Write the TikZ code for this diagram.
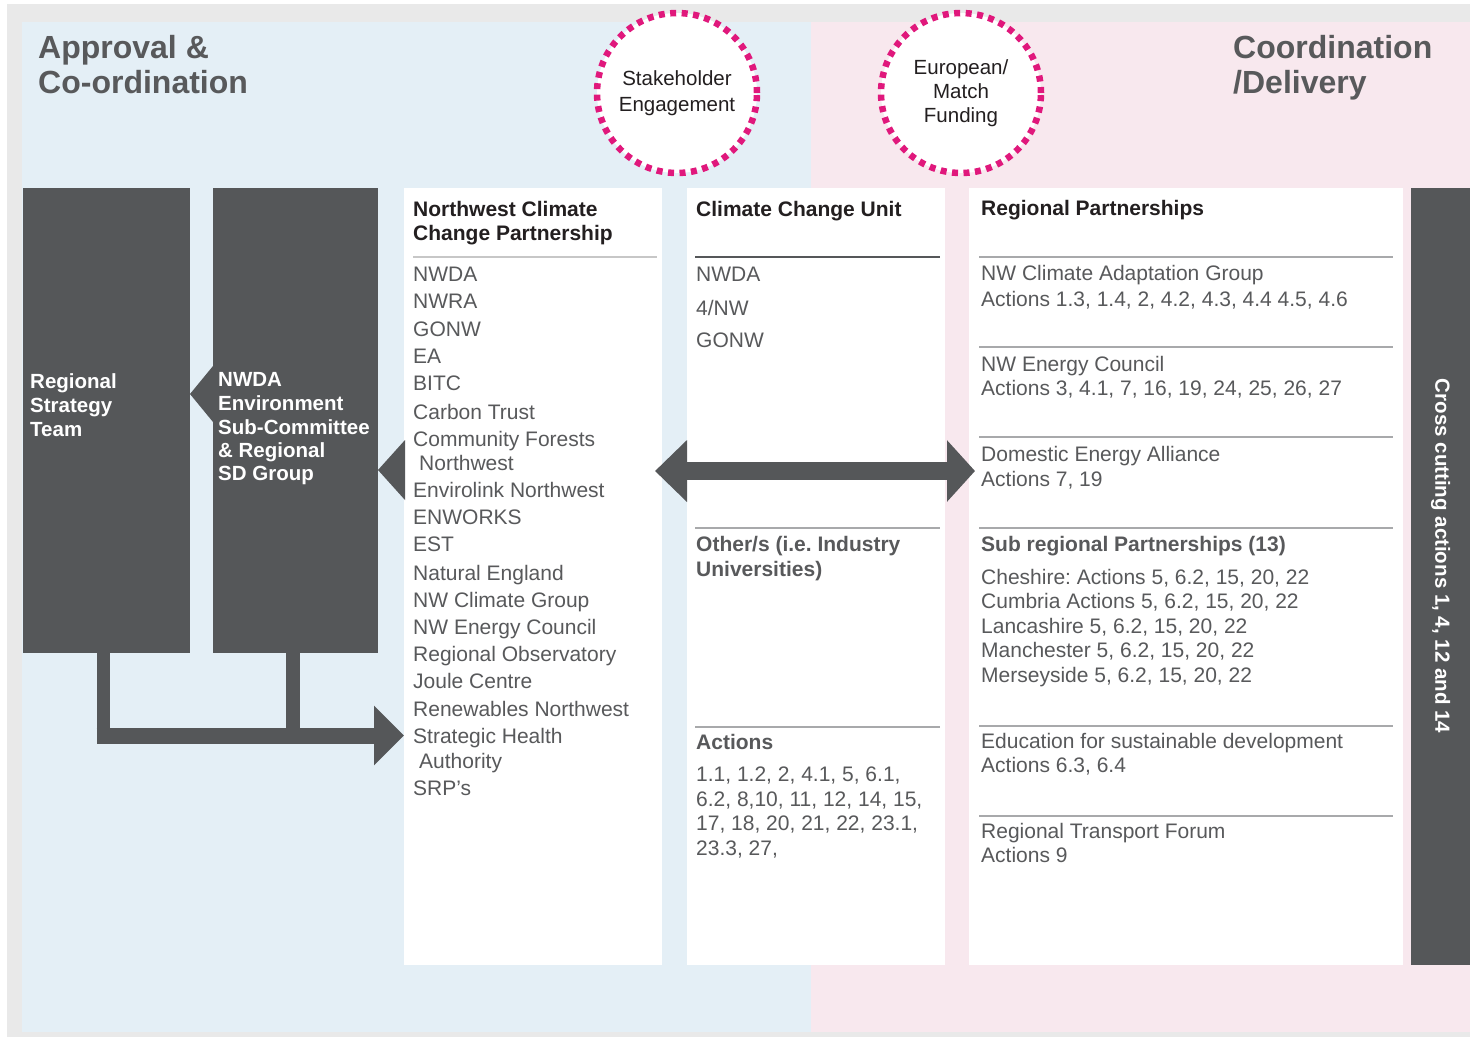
\documentclass[tikz,border=0pt]{standalone}
\usepackage{fontspec}
\setmainfont{Liberation Sans}
\usetikzlibrary{calc,arrows.meta}
\frenchspacing
\definecolor{dark}{HTML}{555759}
\definecolor{bgblue}{HTML}{E4EFF6}
\definecolor{bgpink}{HTML}{F8E8EE}
\definecolor{edge}{HTML}{E9E9E9}
\definecolor{dotpink}{HTML}{E0187C}
\definecolor{txt}{HTML}{58595B}
\definecolor{head}{HTML}{231F20}
\definecolor{rulegray}{HTML}{A8A9AB}
\begin{document}
\begin{tikzpicture}[x=1pt,y=-1pt,
  darkbox/.style={fill=dark,draw=none,inner sep=0pt,outer sep=0pt,anchor=north west},
  whitebox/.style={fill=white,draw=none,inner sep=0pt,outer sep=0pt,anchor=north west},
  item/.style={anchor=base west,inner sep=0pt,text=txt,font=\fontsize{21pt}{25pt}\selectfont},
  headtxt/.style={anchor=base west,inner sep=0pt,text=head,font=\bfseries\fontsize{21pt}{25pt}\selectfont},
  subhead/.style={anchor=base west,inner sep=0pt,text=txt,font=\bfseries\fontsize{21pt}{25pt}\selectfont},
  boxtxt/.style={anchor=base west,inner sep=0pt,text=white,font=\bfseries\fontsize{20.5pt}{24pt}\selectfont},
  titletxt/.style={anchor=base west,inner sep=0pt,text=txt,font=\bfseries\fontsize{32pt}{35pt}\selectfont},
  sep/.style={draw=rulegray,line width=1.5pt},
  dotcircle/.style={circle,fill=white,draw=dotpink,line width=6.5pt,dash pattern=on 6pt off 5.5pt,minimum size=160pt,inner sep=0pt,align=center,text=head},
  blockarrow/.style={draw=dark,line width=16pt}
]
\useasboundingbox (0,0) rectangle (1470,1037);
% background
\fill[white] (0,0) rectangle (1470,1037);
\fill[edge] (7,4) rectangle (1470,1037);
\fill[bgblue] (22,22) rectangle (811,1032);
\fill[bgpink] (811,22) rectangle (1470,1032);

% titles
\node[titletxt] (t1) at (38,58) {Approval \&};
\node[titletxt] (t2) at (38,93) {Co-ordination};
\node[titletxt] (t3) at (1233,58) {Coordination};
\node[titletxt] (t4) at (1233,93) {/Delivery};

% circles
\node[dotcircle,font=\fontsize{20.5pt}{26pt}\selectfont] (stake) at (677,93) {Stakeholder\\Engagement};
\node[dotcircle,font=\fontsize{20.5pt}{24pt}\selectfont] (euro) at (961,93) {European/\\Match\\Funding};

% boxes
\node[darkbox,minimum width=167pt,minimum height=465pt] (rst) at (23,188) {};
\node[darkbox,minimum width=165pt,minimum height=465pt] (nwda) at (213,188) {};
\node[whitebox,minimum width=258pt,minimum height=777pt] (col1) at (404,188) {};
\node[whitebox,minimum width=258pt,minimum height=777pt] (col2) at (687,188) {};
\node[whitebox,minimum width=434pt,minimum height=777pt] (col3) at (969,188) {};
\node[darkbox,minimum width=59pt,minimum height=777pt] (bar) at (1411,188) {};

% left box texts
\node[boxtxt] (r1) at (30,388) {Regional};
\node[boxtxt] (r2) at (30,412) {Strategy};
\node[boxtxt] (r3) at (30,436) {Team};
\node[boxtxt] (n1) at (218,386) {NWDA};
\node[boxtxt] (n2) at (218,410) {Environment};
\node[boxtxt] (n3) at (218,434) {Sub-Committee};
\node[boxtxt] (n4) at (218,457) {\& Regional};
\node[boxtxt] (n5) at (218,480) {SD Group};

% triangles between boxes
\fill[dark] (nwda.west |- 0,366) -- (rst.east |- 0,394) -- (nwda.west |- 0,422) -- cycle;
\fill[dark] (405,440) -- (nwda.east |- 0,470) -- (405,500) -- cycle;

% bottom connector
\draw[blockarrow,line width=13pt] (rst.south -| 103,0) -- (103,735.5);
\draw[blockarrow,line width=14pt] (nwda.south -| 293,0) -- (293,735.5);
\draw[blockarrow,-{Triangle[length=30pt,width=58pt]}] (96.5,735.5) -- (col1.west |- 0,735.5);

% column 1
\node[headtxt] (h1a) at (413,216) {Northwest Climate};
\node[headtxt] (h1b) at (413,240) {Change Partnership};
\draw[sep,draw=black!22] (413,257) -- (657,257);
\foreach \t/\y/\x [count=\i] in {NWDA/281/413, NWRA/308/413, GONW/336/413, EA/363/413, BITC/390/413, Carbon Trust/419/413, Community Forests/446/413, Northwest/470/419, Envirolink Northwest/497/413, ENWORKS/524/413, EST/551/413, Natural England/580/413, NW Climate Group/607/413, NW Energy Council/634/413, Regional Observatory/661/413, Joule Centre/688/413, Renewables Northwest/716/413, Strategic Health/743/413, Authority/768/419, SRP's/795/413}
  \node[item] (c1-\i) at (\x,\y) {\t};

% column 2
\node[headtxt] (h2) at (696,216) {Climate Change Unit};
\draw[sep,draw=dark,line width=2pt] (695,257) -- (940,257);
\node[item] (c2-1) at (696,281) {NWDA};
\node[item] (c2-2) at (696,315) {4/NW};
\node[item] (c2-3) at (696,347) {GONW};
\draw[sep] (695,528) -- (940,528);
\node[subhead] (o1) at (696,551) {Other/s (i.e. Industry};
\node[subhead] (o2) at (696,576) {Universities)};
\draw[sep] (695,727) -- (940,727);
\node[subhead] (a0) at (696,749) {Actions};
\node[item] (a1) at (696,781) {1.1, 1.2, 2, 4.1, 5, 6.1,};
\node[item] (a2) at (696,806) {6.2, 8,10, 11, 12, 14, 15,};
\node[item] (a3) at (696,830) {17, 18, 20, 21, 22, 23.1,};
\node[item] (a4) at (696,855) {23.3, 27,};

% column 3
\node[headtxt] (h3) at (981,215) {Regional Partnerships};
\draw[sep] (979,257) -- (1393,257);
\node[item] (p1) at (981,280) {NW Climate Adaptation Group};
\node[item] (p2) at (981,306) {Actions 1.3, 1.4, 2, 4.2, 4.3, 4.4 4.5, 4.6};
\draw[sep] (979,347) -- (1393,347);
\node[item] (p3) at (981,371) {NW Energy Council};
\node[item] (p4) at (981,395) {Actions 3, 4.1, 7, 16, 19, 24, 25, 26, 27};
\draw[sep] (979,437) -- (1393,437);
\node[item] (p5) at (981,461) {Domestic Energy Alliance};
\node[item] (p6) at (981,486) {Actions 7, 19};
\draw[sep] (979,528) -- (1393,528);
\node[subhead] (p7) at (981,551) {Sub regional Partnerships (13)};
\node[item] (p8) at (981,584) {Cheshire: Actions 5, 6.2, 15, 20, 22};
\node[item] (p9) at (981,608) {Cumbria Actions 5, 6.2, 15, 20, 22};
\node[item] (p10) at (981,633) {Lancashire 5, 6.2, 15, 20, 22};
\node[item] (p11) at (981,657) {Manchester 5, 6.2, 15, 20, 22};
\node[item] (p12) at (981,682) {Merseyside 5, 6.2, 15, 20, 22};
\draw[sep] (979,726) -- (1393,726);
\node[item] (p13) at (981,748) {Education for sustainable development};
\node[item] (p14) at (981,772) {Actions 6.3, 6.4};
\draw[sep] (979,816) -- (1393,816);
\node[item] (p15) at (981,838) {Regional Transport Forum};
\node[item] (p16) at (981,862) {Actions 9};

% double arrow
\draw[blockarrow,line width=18pt,{Triangle[length=32pt,width=60pt]}-{Triangle[length=28pt,width=60pt]}] (655,471) -- (975,471);

% vertical bar text
\node[rotate=-90,text=white,inner sep=0pt,font=\bfseries\fontsize{20.5pt}{24pt}\selectfont] (cross) at (bar.center |- 0,556) {Cross cutting actions 1, 4, 12 and 14};
\end{tikzpicture}
\end{document}
